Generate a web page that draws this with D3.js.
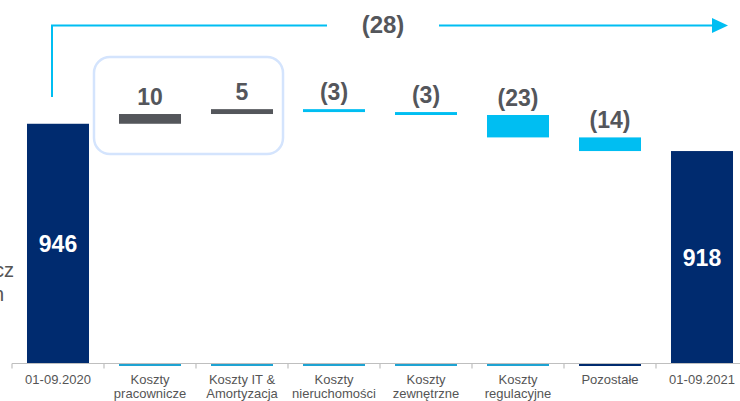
<!DOCTYPE html>
<html>
<head>
<meta charset="utf-8">
<script src="https://cdn.jsdelivr.net/npm/d3@7"></script>
<style>
  body { margin: 0; background: #fff; }
  svg { display: block; font-family: "Liberation Sans", Arial, sans-serif; }
</style>
</head>
<body>
<div id="chart"></div>
<script>
// data
const categories = ["01-09.2020", "Koszty pracownicze", "Koszty IT & Amortyzacja", "Koszty nieruchomości",
    "Koszty zewnętrzne", "Koszty regulacyjne", "Pozostałe", "01-09.2021"];
const categoryLines = [["01-09.2020"], ["Koszty", "pracownicze"], ["Koszty IT &", "Amortyzacja"],
    ["Koszty", "nieruchomości"], ["Koszty", "zewnętrzne"], ["Koszty", "regulacyjne"], ["Pozostałe"], ["01-09.2021"]];
const values = [946, 10, 5, -3, -3, -23, -14, 918];
const kinds = ["total", "delta", "delta", "delta", "delta", "delta", "delta", "total"];
const valueLabels = ["946", "10", "5", "(3)", "(3)", "(23)", "(14)", "918"];
const totalChange = "(28)";
const sideText = ["cz", "n"];

const colors = {total: "#002b6f", up: "#54565b", down: "#00bef2", text: "#54565b", axis: "#bfbfbf",
    strip: "#1ea3d3", box: "#d4e4fd", arrow: "#00bef2"};
const stripColors = [null, colors.strip, colors.strip, colors.strip, colors.strip, colors.strip, colors.total, null];

const width = 740, height = 401;

const svg = d3.select("#chart").append("svg")
    .attr("width", width)
    .attr("height", height);

// waterfall steps
let running = 0;
const steps = values.map((v, i) => {
    let start, end;
    if (kinds[i] === "total") {
        start = 700; end = v; running = v;
    } else {
        start = running; end = running + v; running = end;
    }
    return {cat: categories[i], value: v, kind: kinds[i], start: start, end: end, label: valueLabels[i], i: i};
});

const x = d3.scaleBand()
    .domain(categories)
    .range([12, 748])
    .paddingInner(0.326)
    .paddingOuter(0.163);

const y = d3.scaleLinear()
    .domain([700, 1073])
    .range([363.5, 0]);

// highlight box round the increases
const boxLeft = x(categories[1]) - 25, boxRight = x(categories[2]) + x.bandwidth() + 10;
svg.append("rect")
    .attr("x", boxLeft)
    .attr("y", 57)
    .attr("width", boxRight - boxLeft)
    .attr("height", 97)
    .attr("rx", 16)
    .attr("fill", "none")
    .attr("stroke", colors.box)
    .attr("stroke-width", 2.5);

// bars
svg.selectAll("rect.bar")
    .data(steps)
    .join("rect")
    .attr("class", "bar")
    .attr("x", d => x(d.cat))
    .attr("width", x.bandwidth())
    .attr("y", d => y(Math.max(d.start, d.end)))
    .attr("height", d => Math.abs(y(d.start) - y(d.end)))
    .attr("fill", d => d.kind === "total" ? colors.total : (d.value > 0 ? colors.up : colors.down));

// thin strips on the baseline
svg.selectAll("rect.strip")
    .data(steps.filter(d => stripColors[d.i]))
    .join("rect")
    .attr("class", "strip")
    .attr("x", d => x(d.cat))
    .attr("width", x.bandwidth())
    .attr("y", y(700) + 0.5)
    .attr("height", 2)
    .attr("fill", d => stripColors[d.i]);

// axis line + ticks between categories
svg.append("line")
    .attr("x1", 12).attr("x2", width)
    .attr("y1", y(700)).attr("y2", y(700))
    .attr("stroke", colors.axis).attr("stroke-width", 1.2);

const step = x.step();
svg.selectAll("line.tick")
    .data(d3.range(categories.length + 1))
    .join("line")
    .attr("class", "tick")
    .attr("x1", i => 12 + i * step).attr("x2", i => 12 + i * step)
    .attr("y1", y(700)).attr("y2", y(700) + 5)
    .attr("stroke", colors.axis).attr("stroke-width", 1.2);

// category labels
const catText = svg.selectAll("text.cat")
    .data(steps)
    .join("text")
    .attr("class", "cat")
    .attr("x", d => x(d.cat) + x.bandwidth() / 2)
    .attr("y", 384)
    .attr("text-anchor", "middle")
    .attr("font-size", 13)
    .attr("fill", "#555");
catText.selectAll("tspan")
    .data(d => categoryLines[d.i].map(t => ({t: t, x: x(d.cat) + x.bandwidth() / 2})))
    .join("tspan")
    .attr("x", d => d.x)
    .attr("dy", (d, j) => j === 0 ? 0 : 14)
    .text(d => d.t);

// value labels
svg.selectAll("text.val")
    .data(steps)
    .join("text")
    .attr("class", "val")
    .attr("x", d => x(d.cat) + x.bandwidth() / 2)
    .attr("y", d => d.kind === "total"
        ? (y(d.end) + y(700)) / 2
        : y(Math.max(d.start, d.end)) - 9)
    .attr("dy", d => d.kind === "total" ? "0.36em" : 0)
    .attr("text-anchor", "middle")
    .attr("font-size", 23)
    .attr("font-weight", "bold")
    .attr("fill", d => d.kind === "total" ? "#fff" : colors.text)
    .text(d => d.label);

// overall change arrow
const ax0 = x(categories[0]) + x.bandwidth() / 2 - 6;
const ax1 = x(categories[7]) + x.bandwidth() / 2 + 26;
const ay = 25.5;
svg.append("path")
    .attr("d", `M${ax0},97V${ay}H327M439,${ay}H${ax1 - 14}`)
    .attr("fill", "none")
    .attr("stroke", colors.arrow)
    .attr("stroke-width", 2);
svg.append("path")
    .attr("d", `M${ax1 - 16},${ay - 7.5}L${ax1},${ay}L${ax1 - 16},${ay + 7.5}Z`)
    .attr("fill", colors.arrow);
svg.append("text")
    .attr("x", 383)
    .attr("y", 33)
    .attr("text-anchor", "middle")
    .attr("font-size", 24)
    .attr("font-weight", "bold")
    .attr("fill", colors.text)
    .text(totalChange);

// clipped text at the left edge
svg.selectAll("text.side")
    .data(sideText)
    .join("text")
    .attr("class", "side")
    .attr("x", (d, i) => i === 0 ? 14 : 4)
    .attr("y", (d, i) => 277 + i * 24)
    .attr("text-anchor", "end")
    .attr("font-size", 20)
    .attr("fill", "#555")
    .text(d => d);
</script>
</body>
</html>
